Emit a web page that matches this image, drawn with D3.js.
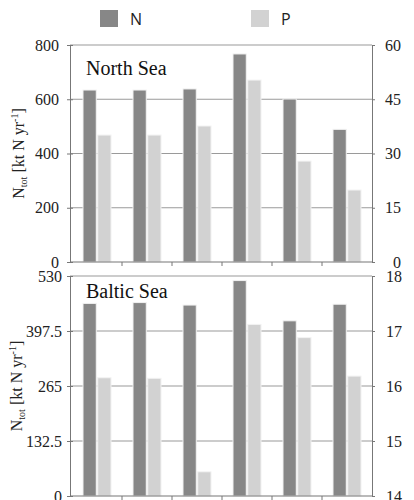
<!DOCTYPE html>
<html>
<head>
<meta charset="utf-8">
<script src="https://cdn.jsdelivr.net/npm/d3@7/dist/d3.min.js"></script>
<style>
  body { margin: 0; background: #fff; }
  svg { display: block; }
  .serif { font-family: "Liberation Serif", "Times New Roman", "DejaVu Serif", serif; }
</style>
</head>
<body>
<div id="chart"></div>
<script>
// data
const categories = ["1", "2", "3", "4", "5", "6"];
const seriesNames = ["N", "P"];
const seriesColors = ["#878787", "#d2d2d2"];

const northN = [634, 634, 638, 767, 601, 489];
const northP = [35.1, 35.1, 37.6, 50.3, 27.9, 19.9];
const balticN = [464, 466, 460, 519, 422, 462];
const balticP = [16.15, 16.14, 14.44, 17.12, 16.88, 16.18];

const northLeftTicks = [0, 200, 400, 600, 800];
const northRightTicks = [0, 15, 30, 45, 60];
const balticLeftTicks = [0, 132.5, 265, 397.5, 530];
const balticRightTicks = [14, 15, 16, 17, 18];

const width = 414, height = 500;
const plotLeft = 70, plotRight = 372;

const svg = d3.select("#chart").append("svg")
    .attr("width", width)
    .attr("height", height);

// legend
const legend = svg.append("g").attr("id", "legend");
const legendX = [100, 251];
seriesNames.forEach(function(name, i) {
    legend.append("rect")
        .attr("x", legendX[i]).attr("y", 10)
        .attr("width", 18).attr("height", 17)
        .attr("fill", seriesColors[i]);
    legend.append("text")
        .attr("x", legendX[i] + 30).attr("y", 25)
        .text(name)
        .style("font-family", "'Open Sans', sans-serif")
        .style("font-size", "16px")
        .attr("fill", "#222");
});

const x0 = d3.scaleBand()
    .domain(categories)
    .range([plotLeft + 2, plotRight])
    .paddingInner(0)
    .paddingOuter(0);
const x1 = d3.scaleBand()
    .domain(seriesNames)
    .range([11, x0.bandwidth() - 11])
    .paddingInner(0.1);

function buildPanel(cfg) {
    const g = svg.append("g").attr("id", cfg.id);

    const yL = d3.scaleLinear()
        .domain([cfg.leftTicks[0], cfg.leftTicks[cfg.leftTicks.length - 1]])
        .range([cfg.bottom, cfg.top]);
    const yR = d3.scaleLinear()
        .domain([cfg.rightTicks[0], cfg.rightTicks[cfg.rightTicks.length - 1]])
        .range([cfg.bottom, cfg.top]);

    // gridlines (incl. top border)
    g.append("g").attr("class", "grid")
        .selectAll("line")
        .data(cfg.leftTicks.slice(1))
        .enter().append("line")
        .attr("x1", plotLeft).attr("x2", plotRight)
        .attr("y1", d => yL(d)).attr("y2", d => yL(d))
        .attr("stroke", "#9a9a9a")
        .attr("stroke-width", 1.2);

    // bars
    const rows = categories.map(function(c, i) {
        return {cat: c, vals: [
            {key: "N", y: yL(cfg.nVals[i])},
            {key: "P", y: yR(cfg.pVals[i])}
        ]};
    });
    g.append("g").attr("class", "bars")
        .selectAll("g")
        .data(rows)
        .enter().append("g")
        .attr("transform", d => "translate(" + x0(d.cat) + ",0)")
        .selectAll("rect")
        .data(d => d.vals)
        .enter().append("rect")
        .attr("x", d => x1(d.key))
        .attr("y", d => d.y)
        .attr("width", x1.bandwidth())
        .attr("height", d => cfg.bottom - d.y)
        .attr("fill", (d, i) => seriesColors[i])
        .attr("stroke", "#f2f2f2")
        .attr("stroke-width", 1);

    // left axis
    const leftAxis = d3.axisLeft(yL).tickValues(cfg.leftTicks)
        .tickSize(3).tickPadding(cfg.leftPad).tickFormat(d3.format(""));
    const la = g.append("g")
        .attr("transform", "translate(" + plotLeft + ",0)")
        .call(leftAxis);
    la.attr("font-family", null).attr("font-size", null);
    la.select(".domain").attr("stroke", "#777");
    la.selectAll(".tick line").attr("stroke", "#777").attr("x2", 3).attr("x1", -3);
    la.selectAll("text")
        .attr("class", "serif")
        .style("font-size", "16px")
        .attr("fill", "#222");

    // right axis
    const rightAxis = d3.axisRight(yR).tickValues(cfg.rightTicks)
        .tickSize(3).tickPadding(cfg.rightPad).tickFormat(d3.format(""));
    const ra = g.append("g")
        .attr("transform", "translate(" + plotRight + ",0)")
        .call(rightAxis);
    ra.attr("font-family", null).attr("font-size", null);
    ra.select(".domain").attr("stroke", "#777");
    ra.selectAll(".tick line").attr("stroke", "#777");
    ra.selectAll("text")
        .attr("class", "serif")
        .style("font-size", "16px")
        .attr("fill", "#222");
    if (cfg.rightEnd) {
        ra.selectAll("text").attr("text-anchor", "end").attr("x", 29);
    }

    // bottom axis with boundary ticks
    const xb = g.append("g");
    xb.append("line")
        .attr("x1", plotLeft).attr("x2", plotRight)
        .attr("y1", cfg.bottom).attr("y2", cfg.bottom)
        .attr("stroke", "#777").attr("stroke-width", 1.2);
    xb.selectAll(".xtick")
        .data(categories.slice(1))
        .enter().append("line")
        .attr("class", "xtick")
        .attr("x1", d => x0(d)).attr("x2", d => x0(d))
        .attr("y1", cfg.bottom).attr("y2", cfg.bottom + 4)
        .attr("stroke", "#777");

    // panel title
    g.append("text")
        .attr("class", "serif")
        .attr("x", 86).attr("y", cfg.top + cfg.titleDy)
        .text(cfg.title)
        .style("font-size", "20px")
        .attr("fill", "#111");

    // y label
    const lab = g.append("text")
        .attr("class", "serif")
        .attr("transform", "translate(" + cfg.labelX + "," + ((cfg.top + cfg.bottom) / 2) + ") rotate(-90)")
        .attr("text-anchor", "middle")
        .style("font-size", "16px")
        .attr("fill", "#222");
    lab.append("tspan").text("N");
    lab.append("tspan").text("tot").style("font-size", "10px").attr("dy", 3);
    lab.append("tspan").text(" [kt N yr").attr("dy", -3);
    lab.append("tspan").text("-1").style("font-size", "10px").attr("dy", -6);
    lab.append("tspan").text("]").attr("dy", 6);
}

buildPanel({
    id: "north", title: "North Sea", top: 45, bottom: 262,
    nVals: northN, pVals: northP,
    leftTicks: northLeftTicks, rightTicks: northRightTicks,
    leftPad: 8, rightPad: 12, rightEnd: true, titleDy: 30, labelX: 24
});
buildPanel({
    id: "baltic", title: "Baltic Sea", top: 276, bottom: 496,
    nVals: balticN, pVals: balticP,
    leftPad: 5, rightPad: 11, rightEnd: false, titleDy: 22, labelX: 22,
    leftTicks: balticLeftTicks, rightTicks: balticRightTicks
});
</script>
</body>
</html>
